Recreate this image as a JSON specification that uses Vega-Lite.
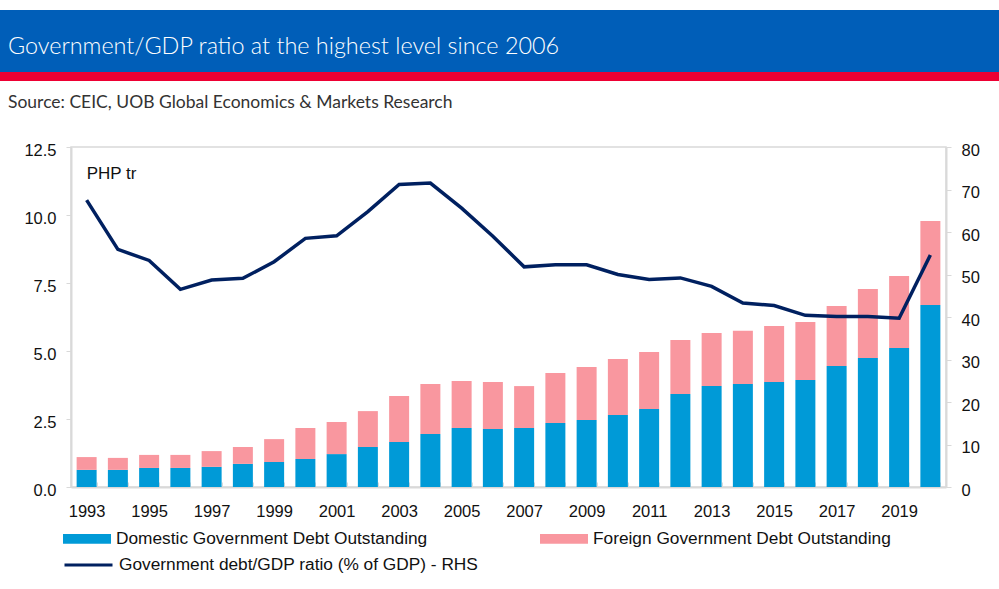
{
  "$schema": "https://vega.github.io/schema/vega-lite/v6.json",
  "padding": {"left": 0, "right": 0, "top": 10, "bottom": 0},
  "background": "white",
  "spacing": 0,
  "config": {
    "font": "Liberation Sans",
    "view": {"stroke": null}
  },
  "datasets": {
    "debt": [
      {"year": 1993, "series": "Domestic Government Debt Outstanding", "value": 0.63},
      {"year": 1993, "series": "Foreign Government Debt Outstanding", "value": 0.47},
      {"year": 1994, "series": "Domestic Government Debt Outstanding", "value": 0.63},
      {"year": 1994, "series": "Foreign Government Debt Outstanding", "value": 0.44},
      {"year": 1995, "series": "Domestic Government Debt Outstanding", "value": 0.70},
      {"year": 1995, "series": "Foreign Government Debt Outstanding", "value": 0.48},
      {"year": 1996, "series": "Domestic Government Debt Outstanding", "value": 0.70},
      {"year": 1996, "series": "Foreign Government Debt Outstanding", "value": 0.48},
      {"year": 1997, "series": "Domestic Government Debt Outstanding", "value": 0.74},
      {"year": 1997, "series": "Foreign Government Debt Outstanding", "value": 0.58},
      {"year": 1998, "series": "Domestic Government Debt Outstanding", "value": 0.85},
      {"year": 1998, "series": "Foreign Government Debt Outstanding", "value": 0.62},
      {"year": 1999, "series": "Domestic Government Debt Outstanding", "value": 0.92},
      {"year": 1999, "series": "Foreign Government Debt Outstanding", "value": 0.84},
      {"year": 2000, "series": "Domestic Government Debt Outstanding", "value": 1.03},
      {"year": 2000, "series": "Foreign Government Debt Outstanding", "value": 1.14},
      {"year": 2001, "series": "Domestic Government Debt Outstanding", "value": 1.21},
      {"year": 2001, "series": "Foreign Government Debt Outstanding", "value": 1.18},
      {"year": 2002, "series": "Domestic Government Debt Outstanding", "value": 1.47},
      {"year": 2002, "series": "Foreign Government Debt Outstanding", "value": 1.32},
      {"year": 2003, "series": "Domestic Government Debt Outstanding", "value": 1.65},
      {"year": 2003, "series": "Foreign Government Debt Outstanding", "value": 1.70},
      {"year": 2004, "series": "Domestic Government Debt Outstanding", "value": 1.95},
      {"year": 2004, "series": "Foreign Government Debt Outstanding", "value": 1.84},
      {"year": 2005, "series": "Domestic Government Debt Outstanding", "value": 2.17},
      {"year": 2005, "series": "Foreign Government Debt Outstanding", "value": 1.73},
      {"year": 2006, "series": "Domestic Government Debt Outstanding", "value": 2.13},
      {"year": 2006, "series": "Foreign Government Debt Outstanding", "value": 1.73},
      {"year": 2007, "series": "Domestic Government Debt Outstanding", "value": 2.17},
      {"year": 2007, "series": "Foreign Government Debt Outstanding", "value": 1.54},
      {"year": 2008, "series": "Domestic Government Debt Outstanding", "value": 2.35},
      {"year": 2008, "series": "Foreign Government Debt Outstanding", "value": 1.84},
      {"year": 2009, "series": "Domestic Government Debt Outstanding", "value": 2.46},
      {"year": 2009, "series": "Foreign Government Debt Outstanding", "value": 1.95},
      {"year": 2010, "series": "Domestic Government Debt Outstanding", "value": 2.65},
      {"year": 2010, "series": "Foreign Government Debt Outstanding", "value": 2.06},
      {"year": 2011, "series": "Domestic Government Debt Outstanding", "value": 2.87},
      {"year": 2011, "series": "Foreign Government Debt Outstanding", "value": 2.09},
      {"year": 2012, "series": "Domestic Government Debt Outstanding", "value": 3.42},
      {"year": 2012, "series": "Foreign Government Debt Outstanding", "value": 1.98},
      {"year": 2013, "series": "Domestic Government Debt Outstanding", "value": 3.71},
      {"year": 2013, "series": "Foreign Government Debt Outstanding", "value": 1.95},
      {"year": 2014, "series": "Domestic Government Debt Outstanding", "value": 3.79},
      {"year": 2014, "series": "Foreign Government Debt Outstanding", "value": 1.95},
      {"year": 2015, "series": "Domestic Government Debt Outstanding", "value": 3.86},
      {"year": 2015, "series": "Foreign Government Debt Outstanding", "value": 2.06},
      {"year": 2016, "series": "Domestic Government Debt Outstanding", "value": 3.93},
      {"year": 2016, "series": "Foreign Government Debt Outstanding", "value": 2.14},
      {"year": 2017, "series": "Domestic Government Debt Outstanding", "value": 4.45},
      {"year": 2017, "series": "Foreign Government Debt Outstanding", "value": 2.20},
      {"year": 2018, "series": "Domestic Government Debt Outstanding", "value": 4.74},
      {"year": 2018, "series": "Foreign Government Debt Outstanding", "value": 2.54},
      {"year": 2019, "series": "Domestic Government Debt Outstanding", "value": 5.11},
      {"year": 2019, "series": "Foreign Government Debt Outstanding", "value": 2.65},
      {"year": 2020, "series": "Domestic Government Debt Outstanding", "value": 6.69},
      {"year": 2020, "series": "Foreign Government Debt Outstanding", "value": 3.09}
    ],
    "ratio": [
      {"year": 1993, "ratio": 67.5},
      {"year": 1994, "ratio": 55.9},
      {"year": 1995, "ratio": 53.3},
      {"year": 1996, "ratio": 46.5},
      {"year": 1997, "ratio": 48.7},
      {"year": 1998, "ratio": 49.1},
      {"year": 1999, "ratio": 53.0},
      {"year": 2000, "ratio": 58.5},
      {"year": 2001, "ratio": 59.1},
      {"year": 2002, "ratio": 64.8},
      {"year": 2003, "ratio": 71.2},
      {"year": 2004, "ratio": 71.5},
      {"year": 2005, "ratio": 65.6},
      {"year": 2006, "ratio": 59.0},
      {"year": 2007, "ratio": 51.8},
      {"year": 2008, "ratio": 52.3},
      {"year": 2009, "ratio": 52.3},
      {"year": 2010, "ratio": 50.0},
      {"year": 2011, "ratio": 48.8},
      {"year": 2012, "ratio": 49.2},
      {"year": 2013, "ratio": 47.2},
      {"year": 2014, "ratio": 43.3},
      {"year": 2015, "ratio": 42.7},
      {"year": 2016, "ratio": 40.4},
      {"year": 2017, "ratio": 40.1},
      {"year": 2018, "ratio": 40.1},
      {"year": 2019, "ratio": 39.7},
      {"year": 2020, "ratio": 54.6}
    ]
  },
  "vconcat": [
    {
      "width": 999,
      "height": 62,
      "data": {"values": [{}]},
      "mark": {"type": "rect", "color": "#005EB8"},
      "encoding": {},
      "title": {
        "text": "Government/GDP ratio at the highest level since 2006",
        "font": "Lato",
        "fontSize": 23.4,
        "fontWeight": 300,
        "color": "white",
        "anchor": "start",
        "frame": "group",
        "orient": "bottom",
        "baseline": "alphabetic",
        "offset": -18,
        "dx": 8
      }
    },
    {
      "width": 999,
      "height": 9,
      "data": {"values": [{}]},
      "mark": {"type": "rect", "color": "#EE0033"},
      "encoding": {}
    },
    {
      "width": 999,
      "height": 59.75,
      "data": {"values": [{}]},
      "mark": {"type": "rect", "opacity": 0},
      "encoding": {},
      "title": {
        "text": "Source: CEIC, UOB Global Economics & Markets Research",
        "font": "Lato",
        "fontSize": 17.5,
        "fontWeight": "normal",
        "color": "#333333",
        "anchor": "start",
        "frame": "group",
        "orient": "bottom",
        "baseline": "alphabetic",
        "offset": -32.75,
        "dx": 8
      }
    },
    {
      "spacing": 0,
      "hconcat": [
        {
          "width": 23,
          "height": 340,
          "data": {"values": [{}]},
          "mark": {"type": "rect", "color": "white"},
          "encoding": {}
        },
        {
          "width": 875,
          "height": 340,
          "view": {"stroke": "#d9d9d9", "strokeWidth": 1.5},
          "layer": [
            {
              "layer": [
                {
                  "data": {"name": "debt"},
                  "mark": {"type": "bar"},
                  "encoding": {
                    "x": {
                      "field": "year",
                      "type": "ordinal",
                      "scale": {"paddingInner": 0.36, "paddingOuter": 0.18},
                      "axis": {
                        "title": null,
                        "labelAngle": 0,
                        "labelExpr": "datum.value % 2 == 1 ? datum.label : ''",
                        "labelOverlap": false,
                        "labelFontSize": 16.5,
                        "labelColor": "#111111",
                        "labelPadding": 21,
                        "tickBand": "extent",
                        "tickSize": -5,
                        "tickColor": "#d9d9d9",
                        "domainColor": "#d9d9d9",
                        "domainWidth": 2
                      }
                    },
                    "y": {
                      "field": "value",
                      "type": "quantitative",
                      "scale": {"domain": [0, 12.5], "nice": false},
                      "axis": {
                        "title": null,
                        "values": [0, 2.5, 5, 7.5, 10, 12.5],
                        "format": ".1f",
                        "grid": false,
                        "labelFontSize": 16.5,
                        "labelColor": "#111111",
                        "labelPadding": 10,
                        "labelOffset": 3,
                        "tickSize": 5,
                        "tickColor": "#d9d9d9",
                        "domainColor": "#d9d9d9",
                        "domainWidth": 2
                      }
                    },
                    "order": {"field": "series", "sort": "ascending"},
                    "color": {
                      "field": "series",
                      "type": "nominal",
                      "scale": {
                        "domain": ["Domestic Government Debt Outstanding", "Foreign Government Debt Outstanding"],
                        "range": ["#009AD7", "#F9979F"]
                      },
                      "legend": {
                        "title": null,
                        "orient": "none",
                        "legendX": 63,
                        "legendY": 504.5,
                        "direction": "horizontal",
                        "padding": 0,
                        "symbolType": "M-1,-0.2L1,-0.2L1,0.2L-1,0.2Z",
                        "symbolSize": 2304,
                        "symbolStrokeWidth": 0,
                        "labelFontSize": 17.3,
                        "labelColor": "#111111",
                        "labelOffset": 5,
                        "labelLimit": 0,
                        "columnPadding": 112
                      }
                    }
                  }
                },
                {
                  "data": {"values": [{"label": "PHP tr"}]},
                  "mark": {"type": "text", "align": "left", "baseline": "alphabetic", "fontSize": 17, "color": "#111111"},
                  "encoding": {
                    "x": {"datum": 1993, "type": "ordinal"},
                    "y": {"datum": 11.32, "type": "quantitative"},
                    "text": {"field": "label"}
                  }
                }
              ]
            },
            {
              "data": {"name": "ratio"},
              "mark": {"type": "line", "strokeWidth": 3.5},
              "encoding": {
                "x": {"field": "year", "type": "ordinal"},
                "y": {
                  "field": "ratio",
                  "type": "quantitative",
                  "scale": {"domain": [0, 80], "nice": false},
                  "axis": {
                    "orient": "right",
                    "title": null,
                    "values": [0, 10, 20, 30, 40, 50, 60, 70, 80],
                    "grid": false,
                    "labelFontSize": 16.5,
                    "labelColor": "#111111",
                    "labelPadding": 10,
                    "labelOffset": 3,
                    "tickSize": 5,
                    "tickColor": "#d9d9d9",
                    "domainColor": "#d9d9d9",
                    "domainWidth": 2
                  }
                },
                "stroke": {
                  "datum": "Government debt/GDP ratio (% of GDP) - RHS",
                  "type": "nominal",
                  "scale": {"range": ["#002060"]},
                  "legend": {
                    "title": null,
                    "orient": "none",
                    "legendX": 63,
                    "legendY": 529.5,
                    "padding": 0,
                    "symbolType": "stroke",
                    "symbolSize": 2304,
                    "symbolStrokeWidth": 3,
                    "labelFontSize": 17.3,
                    "labelColor": "#111111",
                    "labelOffset": 5,
                    "labelLimit": 0
                  }
                }
              }
            }
          ],
          "resolve": {"scale": {"y": "independent"}}
        }
      ]
    }
  ]
}
